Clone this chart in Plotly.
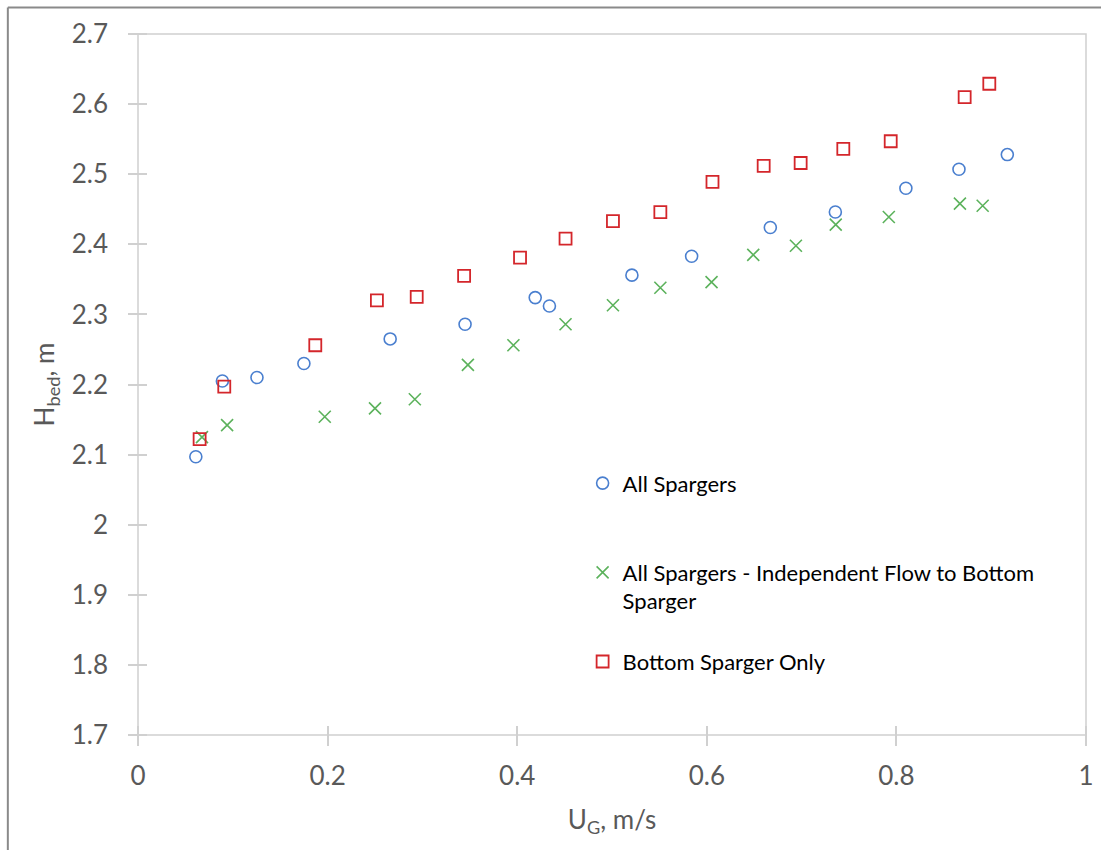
import plotly.graph_objects as go

# All Spargers
ug_all = [0.061, 0.089, 0.1255, 0.175, 0.266, 0.345, 0.419, 0.434, 0.521, 0.584,
          0.667, 0.7356, 0.810, 0.866, 0.917]
h_all = [2.097, 2.205, 2.210, 2.230, 2.265, 2.286, 2.324, 2.312, 2.356, 2.383,
         2.424, 2.446, 2.480, 2.507, 2.528]

# All Spargers - Independent Flow to Bottom Sparger
ug_ind = [0.0675, 0.094, 0.197, 0.250, 0.292, 0.348, 0.396, 0.451, 0.501, 0.551,
          0.605, 0.649, 0.694, 0.736, 0.792, 0.867, 0.891]
h_ind = [2.125, 2.142, 2.154, 2.166, 2.179, 2.228, 2.256, 2.286, 2.313, 2.338,
         2.346, 2.385, 2.398, 2.428, 2.439, 2.458, 2.455]

# Bottom Sparger Only
ug_bot = [0.065, 0.091, 0.187, 0.252, 0.294, 0.344, 0.403, 0.451, 0.501, 0.551,
          0.606, 0.660, 0.699, 0.744, 0.794, 0.872, 0.898]
h_bot = [2.122, 2.197, 2.256, 2.320, 2.325, 2.355, 2.381, 2.408, 2.433, 2.446,
         2.489, 2.512, 2.516, 2.536, 2.547, 2.610, 2.629]

x_ticks = [0, 0.2, 0.4, 0.6, 0.8, 1]
x_ticklabels = ["0", "0.2", "0.4", "0.6", "0.8", "1"]
y_ticks = [1.7, 1.8, 1.9, 2.0, 2.1, 2.2, 2.3, 2.4, 2.5, 2.6, 2.7]
y_ticklabels = ["1.7", "1.8", "1.9", "2", "2.1", "2.2", "2.3", "2.4", "2.5", "2.6", "2.7"]

names = ["All Spargers<br> ",
         "All Spargers - Independent Flow to Bottom<br>Sparger",
         "Bottom Sparger Only"]

FONT = "Lato, 'Open Sans', sans-serif"
GRAY = "#595959"
AXC = "#d0d0d0"

fig = go.Figure()
fig.add_trace(go.Scatter(x=ug_all, y=h_all, mode="markers", name=names[0],
                         legendgroup="a",
                         marker=dict(symbol="circle-open", size=12, color="#4a7fcf",
                                     line=dict(width=1.6, color="#4a7fcf"))))
fig.add_trace(go.Scatter(x=ug_ind, y=h_ind, mode="markers", name=names[1],
                         legendgroup="b",
                         marker=dict(symbol="x-thin-open", size=12, color="#5cb25c",
                                     line=dict(width=1.6, color="#5cb25c"))))
fig.add_trace(go.Scatter(x=ug_bot, y=h_bot, mode="markers", name=names[2],
                         legendgroup="c",
                         marker=dict(symbol="square-open", size=12, color="#d4262b",
                                     line=dict(width=1.8, color="#d4262b"))))

# Axes are shifted slightly inside the plot area so that their long "outside"
# ticks cross the plot-area border (Excel "cross" tick marks).
fig.update_layout(
    width=1101, height=850,
    margin=dict(l=138, r=15, t=34, b=115),
    paper_bgcolor="white", plot_bgcolor="white",
    font=dict(family=FONT, color=GRAY),
    xaxis=dict(range=[0, 1], tickvals=x_ticks, ticktext=x_ticklabels,
               automargin=False, anchor="free", position=0.0143,
               showgrid=False, zeroline=False, showline=False,
               ticks="outside", ticklen=20,
               tickcolor=AXC, tickwidth=1.5, tickfont=dict(size=26, color=GRAY),
               ticklabelstandoff=8,
               title=dict(text="U<sub>G</sub>, m/s", font=dict(size=26, color=GRAY),
                          standoff=20)),
    yaxis=dict(range=[1.7, 2.7], tickvals=y_ticks, ticktext=y_ticklabels,
               automargin=False, anchor="free", position=0.0098,
               showgrid=False, zeroline=False, showline=False,
               ticks="outside", ticklen=19,
               tickcolor=AXC, tickwidth=1.5, tickfont=dict(size=26, color=GRAY),
               ticklabelstandoff=15,
               title=dict(text="H<sub>bed</sub>, m", font=dict(size=26, color=GRAY),
                          standoff=8)),
    legend=dict(x=0.469, y=0.389, xanchor="left", yanchor="top",
                bgcolor="rgba(0,0,0,0)", font=dict(size=22, color="#000000", family=FONT),
                traceorder="grouped", tracegroupgap=29, valign="top",
                itemclick=False),
    shapes=[
        # plot-area border
        dict(type="rect", xref="paper", yref="paper", x0=0, x1=1, y0=0, y1=1,
             line=dict(color=AXC, width=1.5), layer="below"),
        # outer frame (left and top edges)
        dict(type="line", xref="paper", yref="paper", x0=-0.1373, x1=-0.1373,
             y0=1.0378, y1=-0.17, line=dict(color="#8a8a8a", width=2)),
        dict(type="line", xref="paper", yref="paper", x0=-0.1373, x1=1.02,
             y0=1.0378, y1=1.0378, line=dict(color="#8a8a8a", width=2)),
    ],
)

fig.write_html("out.html")
